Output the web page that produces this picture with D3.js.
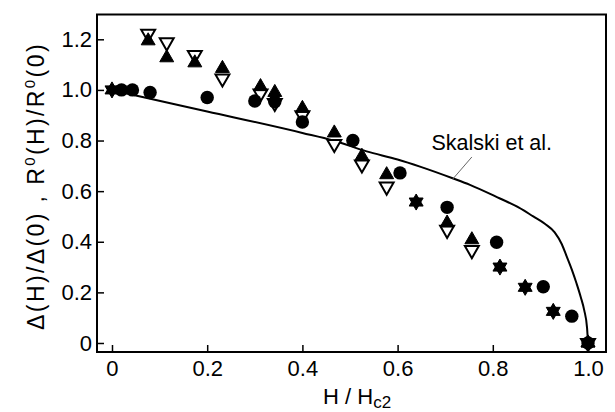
<!DOCTYPE html>
<html>
<head>
<meta charset="utf-8">
<script src="https://cdn.jsdelivr.net/npm/d3@7"></script>
<style>
  html, body { margin: 0; padding: 0; background: #fff; }
  svg { display: block; }
  text { font-family: "Liberation Sans", Arial, Helvetica, sans-serif; fill: #000; }
</style>
</head>
<body>
<svg id="chart" width="615" height="412"></svg>
<script>
// ---- data ----
const xTicks = [0, 0.2, 0.4, 0.6, 0.8, 1.0];
const xTickLabels = ["0", "0.2", "0.4", "0.6", "0.8", "1.0"];
const yTicks = [0, 0.2, 0.4, 0.6, 0.8, 1.0, 1.2];
const yTickLabels = ["0", "0.2", "0.4", "0.6", "0.8", "1.0", "1.2"];

// filled circles
const circleX = [0.02, 0.043, 0.08, 0.2, 0.30, 0.342, 0.40, 0.506, 0.605, 0.704, 0.808, 0.906, 0.966, 1.0];
const circleY = [1.0, 1.0, 0.99, 0.97, 0.956, 0.953, 0.873, 0.80, 0.672, 0.536, 0.398, 0.222, 0.106, 0.0];
// filled up-triangles
const upX = [0.076, 0.115, 0.174, 0.232, 0.312, 0.342, 0.40, 0.467, 0.525, 0.577, 0.704, 0.756, 1.0];
const upY = [1.194, 1.127, 1.107, 1.085, 1.013, 0.99, 0.927, 0.83, 0.738, 0.665, 0.474, 0.408, 0.0];
// open down-triangles
const downX = [0.076, 0.115, 0.174, 0.232, 0.312, 0.342, 0.40, 0.467, 0.525, 0.577, 0.704, 0.756, 1.0];
const downY = [1.222, 1.188, 1.138, 1.045, 0.986, 0.948, 0.90, 0.786, 0.705, 0.618, 0.447, 0.367, 0.0];
// filled six-pointed stars
const starX = [0.0, 0.639, 0.815, 0.868, 0.927, 1.0];
const starY = [1.0, 0.557, 0.30, 0.22, 0.125, 0.0];
// theory curve (Skalski et al.)
const curveX = [0, 0.05, 0.2, 0.4, 0.465, 0.535, 0.6, 0.647, 0.717, 0.752, 0.815, 0.855, 0.885, 0.91, 0.93, 0.945, 0.955, 0.966, 0.976, 0.985, 0.992, 0.998, 1.0];
const curveY = [1.0, 0.978, 0.915, 0.83, 0.80, 0.757, 0.725, 0.697, 0.65, 0.625, 0.571, 0.535, 0.5, 0.47, 0.437, 0.39, 0.343, 0.29, 0.235, 0.18, 0.13, 0.06, 0.0];
const curveLabel = "Skalski et al.";

// ---- layout ----
const svg = d3.select("#chart");
const mLeft = 97, mRight = 606, mTop = 14.5, mBottom = 352;
const x = d3.scaleLinear().domain([-0.0315, 1.0378]).range([mLeft, mRight]);
const y = d3.scaleLinear().domain([-0.0356, 1.298]).range([mBottom, mTop]);

// axes with inward ticks
const xAxis = d3.axisBottom(x).tickValues(xTicks).tickFormat((d, i) => xTickLabels[i]).tickSize(-7).tickPadding(8);
const yAxis = d3.axisLeft(y).tickValues(yTicks).tickFormat((d, i) => yTickLabels[i]).tickSize(-7).tickPadding(5);

const gx = svg.append("g").attr("transform", `translate(0,${mBottom})`).call(xAxis);
const gy = svg.append("g").attr("transform", `translate(${mLeft},0)`).call(yAxis);
[gx, gy].forEach(g => {
  g.select(".domain").remove();
  g.selectAll(".tick line").attr("stroke", "#000").attr("stroke-width", 1.5);
  g.selectAll(".tick text").style("font-size", "22px").attr("fill", "#000")
    .style("font-family", '"Liberation Sans", Arial, sans-serif');
});

// frame
svg.append("rect").attr("x", mLeft).attr("y", mTop).attr("width", mRight - mLeft).attr("height", mBottom - mTop)
  .attr("fill", "none").attr("stroke", "#000").attr("stroke-width", 2);

// curve
const curvePts = curveX.map((v, i) => [v, curveY[i]]);
svg.append("path").datum(curvePts)
  .attr("d", d3.line().x(d => x(d[0])).y(d => y(d[1])).curve(d3.curveMonotoneX))
  .attr("fill", "none").attr("stroke", "#000").attr("stroke-width", 2);

// annotation
svg.append("line")
  .attr("x1", x(0.756)).attr("y1", y(0.735)).attr("x2", x(0.716)).attr("y2", y(0.648))
  .attr("stroke", "#666").attr("stroke-width", 1);
svg.append("text").attr("x", x(0.671)).attr("y", y(0.763)).style("font-size", "21.5px").text(curveLabel);

// markers
const triSize = 84;
const s3 = Math.sqrt(3);
const hexagram = {
  draw(ctx, size) {
    const r = Math.sqrt(size / (3 * s3));
    ctx.moveTo(0, -2 * r); ctx.lineTo(s3 * r, r); ctx.lineTo(-s3 * r, r); ctx.closePath();
    ctx.moveTo(0, 2 * r); ctx.lineTo(-s3 * r, -r); ctx.lineTo(s3 * r, -r); ctx.closePath();
  }
};
const downTri = {
  draw(ctx, size) {
    const r = Math.sqrt(size / (3 * s3));
    ctx.moveTo(0, 2 * r); ctx.lineTo(s3 * r, -r); ctx.lineTo(-s3 * r, -r); ctx.closePath();
  }
};

const downPts = downX.map((v, i) => [v, downY[i]]);
svg.append("g").selectAll("path").data(downPts).join("path")
  .attr("transform", d => `translate(${x(d[0])},${y(d[1])})`)
  .attr("d", d3.symbol().type(downTri).size(triSize))
  .attr("fill", "#fff").attr("stroke", "#000").attr("stroke-width", 2);

const circPts = circleX.map((v, i) => [v, circleY[i]]);
svg.append("g").selectAll("circle").data(circPts).join("circle")
  .attr("cx", d => x(d[0])).attr("cy", d => y(d[1])).attr("r", 6.7).attr("fill", "#000");

const upPts = upX.map((v, i) => [v, upY[i]]);
svg.append("g").selectAll("path").data(upPts).join("path")
  .attr("transform", d => `translate(${x(d[0])},${y(d[1])})`)
  .attr("d", d3.symbol().type(d3.symbolTriangle).size(triSize))
  .attr("fill", "#000").attr("stroke", "#000").attr("stroke-width", 1);

const starPts = starX.map((v, i) => [v, starY[i]]);
svg.append("g").selectAll("path").data(starPts).join("path")
  .attr("transform", d => `translate(${x(d[0])},${y(d[1])})`)
  .attr("d", d3.symbol().type(hexagram).size(triSize))
  .attr("fill", "#000").attr("stroke", "#000").attr("stroke-width", 1);

// axis titles
const xt = svg.append("text").attr("x", 323).attr("y", 404).style("font-size", "22px");
xt.append("tspan").text("H / H");
xt.append("tspan").attr("dy", 4).style("font-size", "17px").text("c2");

const yt = svg.append("text").attr("transform", "translate(44,186) rotate(-90)")
  .attr("text-anchor", "middle").style("font-size", "23px").style("letter-spacing", "2.4px");
yt.append("tspan").text("\u0394(H)/\u0394(0) , R");
yt.append("tspan").attr("dy", -9).style("font-size", "15px").text("0");
yt.append("tspan").attr("dy", 9).text("(H)/R");
yt.append("tspan").attr("dy", -9).style("font-size", "15px").text("0");
yt.append("tspan").attr("dy", 9).text("(0)");
</script>
</body>
</html>
